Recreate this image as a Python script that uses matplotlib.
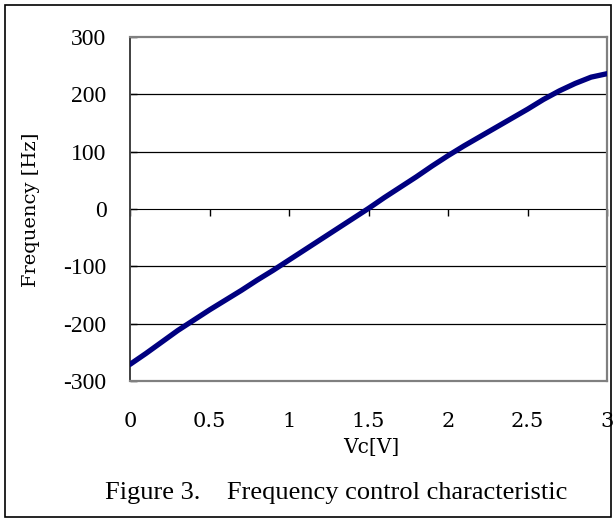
import matplotlib
matplotlib.use("Agg")
import matplotlib.pyplot as plt
from matplotlib.patches import Rectangle

vc = [0.0, 0.1, 0.2, 0.3, 0.4, 0.5, 0.6, 0.7, 0.8, 0.9, 1.0,
      1.1, 1.2, 1.3, 1.4, 1.5, 1.6, 1.7, 1.8, 1.9, 2.0,
      2.1, 2.2, 2.3, 2.4, 2.5, 2.6, 2.7, 2.8, 2.9, 3.0]
freq = [-271, -252, -232, -212, -194, -176, -159, -142, -124, -107, -89,
        -71, -53, -35, -17, 1, 20, 38, 56, 75, 93,
        110, 126, 142, 158, 174, 191, 206, 219, 230, 236]
xticks = [0, 0.5, 1, 1.5, 2, 2.5, 3]
xticklabels = ["0", "0.5", "1", "1.5", "2", "2.5", "3"]
yticks = [-300, -200, -100, 0, 100, 200, 300]
yticklabels = ["-300", "-200", "-100", "0", "100", "200", "300"]

plt.rcParams['font.family'] = ['Liberation Serif', 'DejaVu Serif']
mincho = ['DejaVu Serif']

fig = plt.figure(figsize=(6.16, 5.22), dpi=100)
ax = fig.add_axes([130/616, 1-381/522, (607-130)/616, (381-37)/522])

ax.set_xlim(0, 3)
ax.set_ylim(-300, 300)

for y in [200, 100, -100, -200]:
    ax.axhline(y, color='black', lw=0.9, zorder=1)

ax.plot(vc, freq, color='#000080', lw=3.8, solid_capstyle='round', zorder=3)

for s in ['top', 'right', 'bottom']:
    ax.spines[s].set_color('#808080')
    ax.spines[s].set_linewidth(1.6)
ax.spines['left'].set_color('#404040')
ax.spines['left'].set_linewidth(1.4)

ax.set_yticks(yticks)
ax.set_yticklabels(yticklabels)
ax.tick_params(axis='y', direction='in', length=5, width=1, pad=17, labelsize=17)
ax.set_xticks(xticks)
ax.set_xticklabels(xticklabels, family=mincho)
ax.tick_params(axis='x', length=0, pad=22, labelsize=15)

sec = ax.secondary_xaxis(0.5)
sec.set_xticks(xticks)
sec.tick_params(axis='x', direction='in', length=5, width=1, labelbottom=False, labeltop=False)
sec.spines['bottom'].set_color('black')
sec.spines['bottom'].set_linewidth(0.9)

fig.text(371/616, 1-448/522, "Vc[V]", ha='center', va='center', fontsize=14.5, family=mincho)
fig.text(31/616, 1-210/522, "Frequency [Hz]", ha='center', va='center', rotation=90,
         fontsize=14, family=mincho)

fig.text(336/616, 1-493/522, "Figure 3.    Frequency control characteristic",
         ha='center', va='center', fontsize=19)

fig.patches.append(Rectangle((5/616, 5/522), 606/616, 512/522, transform=fig.transFigure,
                             fill=False, edgecolor='black', lw=1.2))

fig.savefig("out.png", dpi=100)
